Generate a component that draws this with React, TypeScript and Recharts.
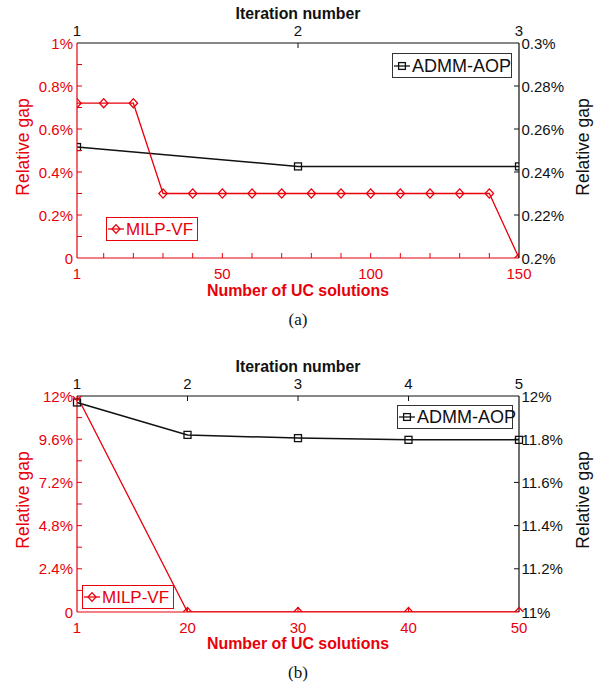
import React from "react";
import { LineChart, Line, XAxis, YAxis, Legend } from "recharts";

const RED = "#e8000b";
const INK = "#111111";
const SANS = '"Liberation Sans", Arial, Helvetica, sans-serif';
const SERIF = '"Liberation Serif", "Times New Roman", serif';

// ---- panel (a) ----
const ucSolutionsA = [1, 10, 20, 30, 40, 50, 60, 70, 80, 90, 100, 110, 120, 130, 140, 150];
const milpGapA = [0.72, 0.72, 0.72, 0.3, 0.3, 0.3, 0.3, 0.3, 0.3, 0.3, 0.3, 0.3, 0.3, 0.3, 0.3, 0];
const iterationsA = [1, 2, 3];
const admmGapA = [0.2516, 0.2426, 0.2426];

const ucTicksA = [1, 10, 20, 30, 40, 50, 60, 70, 80, 90, 100, 110, 120, 130, 140, 150];
const ucLabelsA = [1, 50, 100, 150];
const leftTicksA = [0, 0.1, 0.2, 0.3, 0.4, 0.5, 0.6, 0.7, 0.8, 0.9, 1];
const leftLabelsA = [0, 0.2, 0.4, 0.6, 0.8, 1];
const rightTicksA = [0.2, 0.22, 0.24, 0.26, 0.28, 0.3];

// ---- panel (b) ----
const ucSolutionsB = [1, 20, 30, 40, 50];
const milpGapB = [12, 0, 0, 0, 0];
const iterationsB = [1, 2, 3, 4, 5];
const admmGapB = [11.97, 11.82, 11.805, 11.797, 11.797];

const leftTicksB = [0, 1.2, 2.4, 3.6, 4.8, 6, 7.2, 8.4, 9.6, 10.8, 12];
const leftLabelsB = [0, 2.4, 4.8, 7.2, 9.6, 12];
const rightTicksB = [11, 11.2, 11.4, 11.6, 11.8, 12];

const milpA = ucSolutionsA.map((x, i) => ({ x, gap: milpGapA[i] }));
const admmA = iterationsA.map((iter, i) => ({ iter, gap: admmGapA[i] }));
const tableB = ucSolutionsB.map((n, i) => ({
    n,
    iter: iterationsB[i],
    milp: milpGapB[i],
    admm: admmGapB[i],
}));

const PLOT_L = 77;
const PLOT_R = 519;
const MID_X = (PLOT_L + PLOT_R) / 2;

const same = (a: number, b: number) => Math.abs(a - b) < 1e-9;
const pct = (v: number) => (v === 0 ? "0" : `${v}%`);

type Side = "top" | "bottom" | "left" | "right";

// inward tick marks, labels only on the major values
function tickRenderer(
    side: Side,
    color: string,
    labelled: number[] | null,
    ends: number[],
    fmt: (v: number) => string
) {
    return (props: any) => {
        const { x, y, payload, index } = props;
        const v = Number(payload.value);
        const mark = !ends.some((e) => same(e, v));
        const label = labelled === null || labelled.some((l) => same(l, v));
        const len = 5;
        let x2 = x;
        let y2 = y;
        let tx = x;
        let ty = y;
        let anchor = "middle";
        let baseline = "auto";
        if (side === "bottom") {
            y2 = y - len;
            ty = y + 20.5;
        }
        if (side === "top") {
            y2 = y + len;
            ty = y - 7.5;
        }
        if (side === "left") {
            x2 = x + len;
            tx = x - 4;
            anchor = "end";
            baseline = "central";
        }
        if (side === "right") {
            x2 = x - len;
            tx = x + 2.5;
            anchor = "start";
            baseline = "central";
        }
        return (
            <g key={`tick-${side}-${index}`}>
                {mark && (
                    <line x1={x} y1={y} x2={x2} y2={y2} stroke={color} strokeWidth={1} />
                )}
                {label && (
                    <text
                        x={tx}
                        y={ty}
                        textAnchor={anchor}
                        dominantBaseline={baseline}
                        fill={color}
                        fontSize={15}
                        fontFamily={SANS}
                    >
                        {fmt(v)}
                    </text>
                )}
            </g>
        );
    };
}

const boldTitle = (text: string, y: number, color: string, width: number) => (
    <text
        x={MID_X}
        y={y}
        textAnchor="middle"
        fill={color}
        fontSize={17}
        fontWeight="bold"
        fontFamily={SANS}
        textLength={width}
        lengthAdjust="spacingAndGlyphs"
    >
        {text}
    </text>
);

const sideTitle = (x: number, y: number, color: string) => (
    <text
        x={x}
        y={y}
        transform={`rotate(-90 ${x} ${y})`}
        textAnchor="middle"
        dominantBaseline="central"
        fill={color}
        fontSize={17.5}
        fontFamily={SANS}
    >
        Relative gap
    </text>
);

const Diamond = (p: any) =>
    p.cx == null ? null : (
        <path
            key={`d-${p.index}`}
            d={`M${p.cx} ${p.cy - 4.6} L${p.cx + 4.2} ${p.cy} L${p.cx} ${p.cy + 4.6} L${p.cx - 4.2} ${p.cy} Z`}
            fill="none"
            stroke={RED}
            strokeWidth={1.3}
        />
    );

const Square = (p: any) =>
    p.cx == null ? null : (
        <rect
            key={`s-${p.index}`}
            x={p.cx - 3.5}
            y={p.cy - 3.5}
            width={7}
            height={7}
            fill="none"
            stroke={INK}
            strokeWidth={1.3}
        />
    );

type Box = {
    name: string;
    left: number;
    top: number;
    width: number;
    height: number;
    color: string;
    border: string;
    shape: "diamond" | "square";
    size: number;
};

function legendBoxes(boxes: Box[], h: number) {
    return () => (
        <div style={{ position: "relative", width: 605, height: h }}>
            {boxes.map((b) => (
                <div
                    key={b.name}
                    style={{
                        position: "absolute",
                        left: b.left,
                        top: b.top,
                        width: b.width,
                        height: b.height,
                        boxSizing: "border-box",
                        border: `1px solid ${b.border}`,
                        background: "#fff",
                        display: "flex",
                        alignItems: "center",
                        fontFamily: SANS,
                        fontSize: b.size,
                        color: b.color,
                        whiteSpace: "nowrap",
                        lineHeight: 1,
                    }}
                >
                    <svg width={19} height={12} style={{ flex: "none" }}>
                        <line x1={1} x2={17} y1={6} y2={6} stroke={b.color} strokeWidth={1.3} />
                        {b.shape === "diamond" ? (
                            <path d="M9 1.6 L13 6 L9 10.4 L5 6 Z" fill="none" stroke={b.color} strokeWidth={1.3} />
                        ) : (
                            <rect x={5.6} y={2.6} width={6.8} height={6.8} fill="none" stroke={b.color} strokeWidth={1.3} />
                        )}
                    </svg>
                    <span>{b.name}</span>
                </div>
            ))}
        </div>
    );
}

const legendA: Box[] = [
    { name: "ADMM-AOP", left: 392, top: 53, width: 120, height: 25, color: INK, border: "#333", shape: "square", size: 18 },
    { name: "MILP-VF", left: 106, top: 217, width: 92, height: 24, color: RED, border: RED, shape: "diamond", size: 17 },
];
const legendB: Box[] = [
    { name: "ADMM-AOP", left: 397, top: 70, width: 116, height: 24, color: INK, border: "#333", shape: "square", size: 18 },
    { name: "MILP-VF", left: 82, top: 250, width: 92, height: 24, color: RED, border: RED, shape: "diamond", size: 17 },
];

const axisLine = (color: string) => ({ stroke: color, strokeWidth: 1.2 });

function PanelA() {
    const H = 335;
    return (
        <LineChart width={605} height={H} margin={{ top: 0, right: 0, bottom: 0, left: 0 }}>
            <XAxis
                xAxisId="uc"
                orientation="bottom"
                type="number"
                dataKey="x"
                domain={[1, 150]}
                ticks={ucTicksA}
                interval={0}
                allowDataOverflow
                height={77}
                tickLine={false}
                tickSize={0}
                tickMargin={0}
                axisLine={axisLine(RED)}
                tick={tickRenderer("bottom", RED, ucLabelsA, [1, 150], String)}
                label={() => (
                    <g>
                        {boldTitle("Number of UC solutions", 296, RED, 182)}
                        <text x={MID_X} y={325} textAnchor="middle" fontSize={17} fontFamily={SERIF} fill={INK}>
                            (a)
                        </text>
                    </g>
                )}
            />
            <XAxis
                xAxisId="it"
                orientation="top"
                type="number"
                dataKey="iter"
                domain={[1, 3]}
                ticks={iterationsA}
                interval={0}
                allowDataOverflow
                height={43}
                tickLine={false}
                tickSize={0}
                tickMargin={0}
                axisLine={axisLine(INK)}
                tick={tickRenderer("top", INK, null, [1, 3], String)}
                label={() => boldTitle("Iteration number", 19, INK, 125)}
            />
            <YAxis
                yAxisId="l"
                orientation="left"
                type="number"
                domain={[0, 1]}
                ticks={leftTicksA}
                interval={0}
                allowDataOverflow
                width={77}
                tickLine={false}
                tickSize={0}
                tickMargin={0}
                axisLine={axisLine(RED)}
                tick={tickRenderer("left", RED, leftLabelsA, [0, 1], pct)}
                label={() => sideTitle(23, 147, RED)}
            />
            <YAxis
                yAxisId="r"
                orientation="right"
                type="number"
                domain={[0.2, 0.3]}
                ticks={rightTicksA}
                interval={0}
                allowDataOverflow
                width={86}
                tickLine={false}
                tickSize={0}
                tickMargin={0}
                axisLine={axisLine(INK)}
                tick={tickRenderer("right", INK, null, [0.2, 0.3], (v) => `${v}%`)}
                label={() => sideTitle(583, 147, INK)}
            />
            <Line
                data={admmA}
                xAxisId="it"
                yAxisId="r"
                dataKey="gap"
                name="ADMM-AOP"
                type="linear"
                stroke={INK}
                strokeWidth={1.5}
                dot={Square}
                activeDot={false}
                isAnimationActive={false}
            />
            <Line
                data={milpA}
                xAxisId="uc"
                yAxisId="l"
                dataKey="gap"
                name="MILP-VF"
                type="linear"
                stroke={RED}
                strokeWidth={1.3}
                dot={Diamond}
                activeDot={false}
                isAnimationActive={false}
            />
            <Legend
                layout="horizontal"
                verticalAlign="middle"
                align="center"
                wrapperStyle={{ left: 0, top: 0, width: 605, height: H, margin: 0, padding: 0 }}
                content={legendBoxes(legendA, H)}
            />
        </LineChart>
    );
}

function PanelB() {
    const H = 351;
    return (
        <LineChart width={605} height={H} data={tableB} margin={{ top: 0, right: 0, bottom: 0, left: 0 }}>
            <XAxis
                xAxisId="uc"
                orientation="bottom"
                type="category"
                dataKey="n"
                interval={0}
                height={74}
                tickLine={false}
                tickSize={0}
                tickMargin={0}
                axisLine={axisLine(RED)}
                tick={tickRenderer("bottom", RED, null, [1, 50], String)}
                label={() => (
                    <g>
                        {boldTitle("Number of UC solutions", 314, RED, 182)}
                        <text x={MID_X} y={343} textAnchor="middle" fontSize={17} fontFamily={SERIF} fill={INK}>
                            (b)
                        </text>
                    </g>
                )}
            />
            <XAxis
                xAxisId="it"
                orientation="top"
                type="category"
                dataKey="iter"
                interval={0}
                height={61}
                tickLine={false}
                tickSize={0}
                tickMargin={0}
                axisLine={axisLine(INK)}
                tick={tickRenderer("top", INK, null, [1, 5], String)}
                label={() => boldTitle("Iteration number", 36.5, INK, 125)}
            />
            <YAxis
                yAxisId="l"
                orientation="left"
                type="number"
                domain={[0, 12]}
                ticks={leftTicksB}
                interval={0}
                allowDataOverflow
                width={77}
                tickLine={false}
                tickSize={0}
                tickMargin={0}
                axisLine={axisLine(RED)}
                tick={tickRenderer("left", RED, leftLabelsB, [0, 12], pct)}
                label={() => sideTitle(23, 165, RED)}
            />
            <YAxis
                yAxisId="r"
                orientation="right"
                type="number"
                domain={[11, 12]}
                ticks={rightTicksB}
                interval={0}
                allowDataOverflow
                width={86}
                tickLine={false}
                tickSize={0}
                tickMargin={0}
                axisLine={axisLine(INK)}
                tick={tickRenderer("right", INK, null, [11, 12], (v) => `${v}%`)}
                label={() => sideTitle(583, 165, INK)}
            />
            <Line
                xAxisId="it"
                yAxisId="r"
                dataKey="admm"
                name="ADMM-AOP"
                type="linear"
                stroke={INK}
                strokeWidth={1.5}
                dot={Square}
                activeDot={false}
                isAnimationActive={false}
            />
            <Line
                xAxisId="uc"
                yAxisId="l"
                dataKey="milp"
                name="MILP-VF"
                type="linear"
                stroke={RED}
                strokeWidth={1.3}
                dot={Diamond}
                activeDot={false}
                isAnimationActive={false}
            />
            <Legend
                layout="horizontal"
                verticalAlign="middle"
                align="center"
                wrapperStyle={{ left: 0, top: 0, width: 605, height: H, margin: 0, padding: 0 }}
                content={legendBoxes(legendB, H)}
            />
        </LineChart>
    );
}

export default function App() {
    return (
        <div
            style={{
                position: "absolute",
                left: 0,
                top: 0,
                width: 605,
                height: 686,
                background: "#fff",
                overflow: "hidden",
            }}
        >
            <div style={{ position: "absolute", left: 0, top: 0 }}>
                <PanelA />
            </div>
            <div style={{ position: "absolute", left: 0, top: 335 }}>
                <PanelB />
            </div>
        </div>
    );
}
